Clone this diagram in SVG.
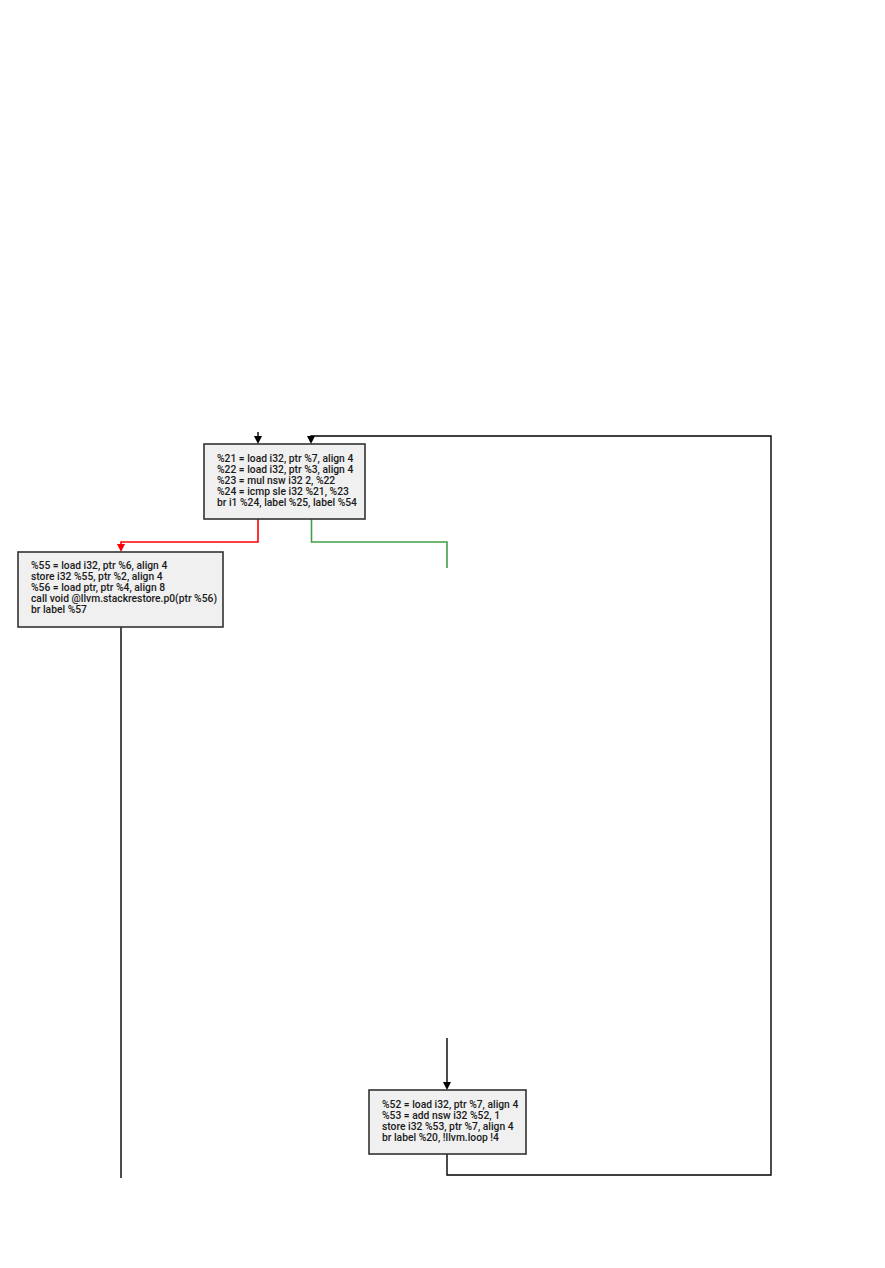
<svg xmlns="http://www.w3.org/2000/svg" width="885" height="1268" viewBox="0 0 885 1268">
<style>
.box{fill:#f0f0f0;stroke:#333;stroke-width:1.6}
.t{font-family:Roboto,"Liberation Sans",sans-serif;font-size:10.3px;font-weight:500;fill:#1a1a1a}
.e{fill:none;stroke:#000;stroke-width:1.4}
</style>
<rect width="885" height="1268" fill="#fff"/>
<g id="edges">
<path class="e" d="M258,432 L258,440"/>
<path d="M254,436 L262,436 L258,444 z" fill="#000"/>
<path class="e" d="M447,1153 L447,1175 L771,1175 L771,436 L311,436 L311,440"/>
<path d="M307,436 L315,436 L311,444 z" fill="#000"/>
<path d="M258,519 L258,542 L121,542 L121,548" fill="none" stroke="#f00" stroke-width="1.6"/>
<path d="M117,544 L125,544 L121,552 z" fill="#f00"/>
<path d="M311.5,519 L311.5,542 L447,542 L447,568" fill="none" stroke="#43a047" stroke-width="1.6"/>
<path class="e" d="M121,627 L121,1178"/>
<path class="e" d="M447,1038 L447,1084"/>
<path d="M443,1082 L451,1082 L447,1090 z" fill="#000"/>
</g>
<g id="bb20">
<rect class="box" x="204" y="444" width="161" height="75"/>
<text class="t" x="217" y="461.5">%21 = load i32, ptr %7, align 4</text>
<text class="t" x="217" y="472.5">%22 = load i32, ptr %3, align 4</text>
<text class="t" x="217" y="483.5">%23 = mul nsw i32 2, %22</text>
<text class="t" x="217" y="494.5">%24 = icmp sle i32 %21, %23</text>
<text class="t" x="217" y="505.5">br i1 %24, label %25, label %54</text>
</g>
<g id="bb54">
<rect class="box" x="18" y="552" width="205" height="75"/>
<text class="t" x="31" y="568.5">%55 = load i32, ptr %6, align 4</text>
<text class="t" x="31" y="579.5">store i32 %55, ptr %2, align 4</text>
<text class="t" x="31" y="590.5">%56 = load ptr, ptr %4, align 8</text>
<text class="t" x="31" y="601.5">call void @llvm.stackrestore.p0(ptr %56)</text>
<text class="t" x="31" y="612.5">br label %57</text>
</g>
<g id="bb51">
<rect class="box" x="369" y="1090" width="157" height="64"/>
<text class="t" x="382" y="1107.5">%52 = load i32, ptr %7, align 4</text>
<text class="t" x="382" y="1118.5">%53 = add nsw i32 %52, 1</text>
<text class="t" x="382" y="1129.5">store i32 %53, ptr %7, align 4</text>
<text class="t" x="382" y="1140.5">br label %20, !llvm.loop !4</text>
</g>
</svg>
